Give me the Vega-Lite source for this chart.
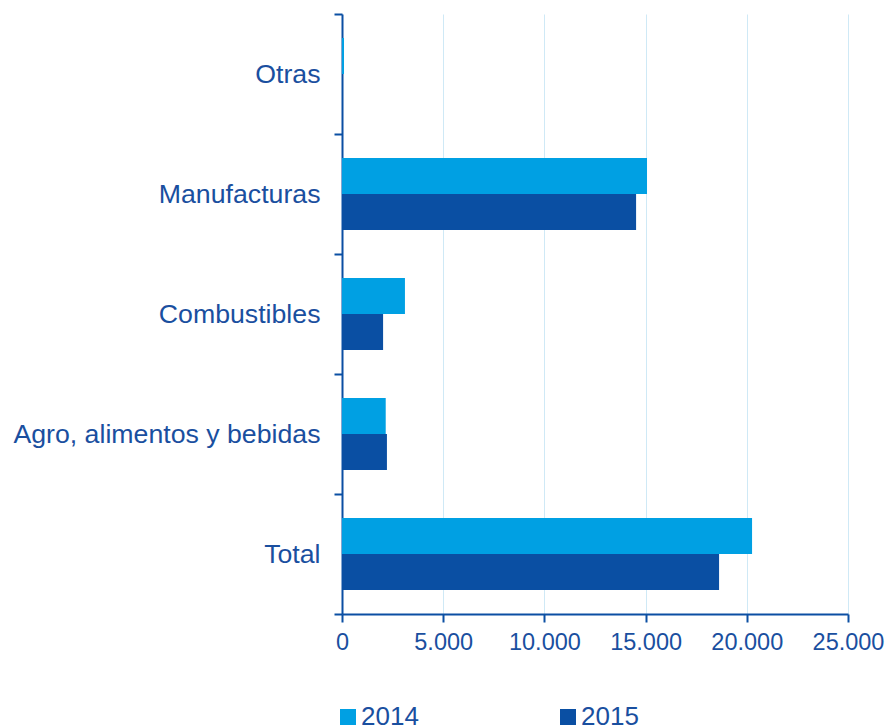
{
  "$schema": "https://vega.github.io/schema/vega-lite/v6.json",
  "autosize": {"type": "none"},
  "width": 506,
  "height": 600,
  "padding": {"left": 342, "top": 14, "right": 45, "bottom": 112},
  "background": "white",
  "data": {
    "values": [
      {"cat": "Otras", "year": "2014", "value": 100},
      {"cat": "Otras", "year": "2015", "value": 50},
      {"cat": "Manufacturas", "year": "2014", "value": 15070},
      {"cat": "Manufacturas", "year": "2015", "value": 14530},
      {"cat": "Combustibles", "year": "2014", "value": 3110},
      {"cat": "Combustibles", "year": "2015", "value": 2030},
      {"cat": "Agro, alimentos y bebidas", "year": "2014", "value": 2160},
      {"cat": "Agro, alimentos y bebidas", "year": "2015", "value": 2220},
      {"cat": "Total", "year": "2014", "value": 20260},
      {"cat": "Total", "year": "2015", "value": 18630}
    ]
  },
  "mark": {"type": "bar"},
  "encoding": {
    "y": {
      "field": "cat",
      "type": "nominal",
      "sort": ["Otras", "Manufacturas", "Combustibles", "Agro, alimentos y bebidas", "Total"],
      "scale": {"paddingInner": 0, "paddingOuter": 0},
      "axis": {
        "title": null,
        "tickBand": "extent",
        "tickSize": 8,
        "tickWidth": 2,
        "tickColor": "#0b4fa3",
        "domainColor": "#0b4fa3",
        "domainWidth": 2,
        "labelPadding": 14,
        "labelFont": "Arial",
        "labelFontSize": 26.7,
        "labelColor": "#1a4f9f",
        "labelLimit": 400,
        "labelExpr": "datum.label == 'Total' ? 'Total\u2009\u200a' : datum.label",
        "grid": false
      }
    },
    "yOffset": {
      "field": "year",
      "type": "nominal",
      "scale": {"paddingInner": 0, "paddingOuter": 0.667}
    },
    "x": {
      "field": "value",
      "type": "quantitative",
      "scale": {"domain": [0, 25000], "nice": false},
      "axis": {
        "title": null,
        "values": [0, 5000, 10000, 15000, 20000, 25000],
        "labelExpr": "replace(format(datum.value, ','), ',', '.')",
        "tickSize": 8,
        "tickWidth": 2,
        "tickColor": "#0b4fa3",
        "domainColor": "#0b4fa3",
        "domainWidth": 2,
        "labelPadding": 8,
        "labelFont": "Arial",
        "labelFontSize": 23.5,
        "labelColor": "#1a4f9f",
        "labelFlush": false,
        "grid": true,
        "gridColor": "#cfe9f6",
        "gridWidth": 1
      }
    },
    "color": {
      "field": "year",
      "type": "nominal",
      "scale": {"domain": ["2014", "2015"], "range": ["#00a0e3", "#0a4fa3"]},
      "legend": {
        "title": null,
        "orient": "none",
        "direction": "horizontal",
        "legendX": -7,
        "legendY": 690,
        "symbolType": "square",
        "symbolSize": 256,
        "symbolStrokeWidth": 0,
        "symbolOpacity": 1,
        "labelFont": "Arial",
        "labelFontSize": 26,
        "labelColor": "#1a4f9f",
        "labelOffset": 0,
        "columnPadding": 136
      }
    }
  },
  "config": {
    "view": {"stroke": null},
    "axis": {"gridDash": []}
  }
}
